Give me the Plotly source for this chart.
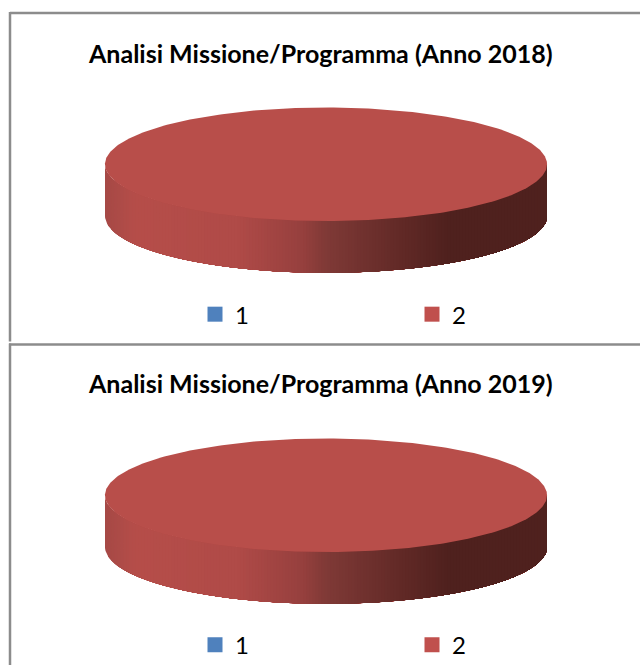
import numpy as np
import plotly.graph_objects as go

categories = ["1", "2"]
values_2018 = [0, 100]
values_2019 = [0, 100]
title_2018 = "Analisi Missione/Programma (Anno 2018)"
title_2019 = "Analisi Missione/Programma (Anno 2019)"
colors = ["#4f81bd", "#c0504d"]

W, H = 640, 668
RX, RY, DEPTH = 221, 57, 52
TOP = "#b84e4a"
FRAME = "#8c8c8c"
FONT = "Lato, Carlito, sans-serif"
SHADE_U = [0.0, 0.07, 0.30, 0.45, 0.50, 0.67, 0.78, 1.0]
SHADE_RGB = [(166, 73, 70), (182, 78, 74), (176, 75, 72), (150, 64, 62),
             (128, 58, 55), (98, 42, 39), (79, 33, 30), (79, 33, 30)]


def shade(u):
    return "rgb(%d,%d,%d)" % tuple(
        np.interp(u, SHADE_U, [c[i] for c in SHADE_RGB]) for i in range(3))


fig = go.Figure()


def add_pie(values, cx, cy, legend):
    for name, col in zip(categories, colors):
        fig.add_trace(go.Scatter(x=[-100], y=[-100], mode="markers", name=name, legend=legend,
                                 marker=dict(symbol="square", size=15, color=col),
                                 hoverinfo="skip"))
    total = sum(values)
    # side wall: painted left to right, each layer reaching the right end, so no seams show
    edges = np.arccos(np.linspace(-1, 1, 148))
    for a0, a1 in zip(edges[:-1], edges[1:]):
        t = np.linspace(a0, 0, 90)
        x = cx + RX * np.cos(t)
        y = cy + RY * np.sin(t)
        u = (RX * (np.cos(a0) + np.cos(a1)) / 2 + RX) / (2 * RX)
        fig.add_trace(go.Scatter(
            x=np.r_[x, x[::-1]], y=np.r_[y, y[::-1] + DEPTH], mode="lines", fill="toself",
            fillcolor=shade(u), line=dict(width=0),
            showlegend=False, hoverinfo="skip"))
    # top faces
    start = 0.0
    for value, col in zip(values, colors):
        sweep = 2 * np.pi * value / total
        if sweep > 0:
            t = np.linspace(start, start + sweep, 361)
            fig.add_trace(go.Scatter(
                x=cx + RX * np.cos(t), y=cy + RY * np.sin(t), mode="lines", fill="toself",
                fillcolor=TOP, line=dict(color=TOP, width=0), showlegend=False, hoverinfo="skip"))
        start += sweep


add_pie(values_2018, 326, 165, "legend")
add_pie(values_2019, 326, 497.5, "legend2")


def px(v):
    return v / W


def py(v):
    return 1 - v / H


leg = dict(orientation="h", xanchor="left", yanchor="middle", bgcolor="rgba(0,0,0,0)",
           entrywidth=172, entrywidthmode="pixels", itemsizing="trace", itemwidth=30,
           font=dict(family=FONT, size=24, color="#000000"), traceorder="normal", tracegroupgap=0)

fig.update_layout(
    width=W, height=H, autosize=False, margin=dict(l=0, r=0, t=0, b=0),
    paper_bgcolor="#ffffff", plot_bgcolor="#ffffff",
    xaxis=dict(range=[0, W], visible=False, fixedrange=True),
    yaxis=dict(range=[H, 0], visible=False, fixedrange=True),
    legend=dict(leg, x=px(195), y=py(316)),
    legend2=dict(leg, x=px(195), y=py(648)),
    annotations=[
        dict(text="<b>%s</b>" % title_2018, x=px(320), y=py(53), xref="paper", yref="paper",
             showarrow=False, xanchor="center", yanchor="middle",
             font=dict(family=FONT, size=25, color="#000000")),
        dict(text="<b>%s</b>" % title_2019, x=px(320), y=py(385), xref="paper", yref="paper",
             showarrow=False, xanchor="center", yanchor="middle",
             font=dict(family=FONT, size=25, color="#000000")),
    ],
    shapes=[
        dict(type="line", x0=10, x1=W, y0=13, y1=13, line=dict(color=FRAME, width=2.5)),
        dict(type="line", x0=10, x1=10, y0=12, y1=343, line=dict(color=FRAME, width=2.5)),
        dict(type="line", x0=9, x1=W, y0=346, y1=346, line=dict(color=FRAME, width=2.5)),
        dict(type="line", x0=10, x1=10, y0=345, y1=H, line=dict(color=FRAME, width=2.5)),
    ],
)
fig.write_html("out.html", config={"displayModeBar": False},
               default_width="640px", default_height="668px",
               post_script="document.body.style.cssText='margin:0;height:668px;overflow:hidden';"
                           "document.documentElement.style.cssText='height:668px;overflow:hidden';")
